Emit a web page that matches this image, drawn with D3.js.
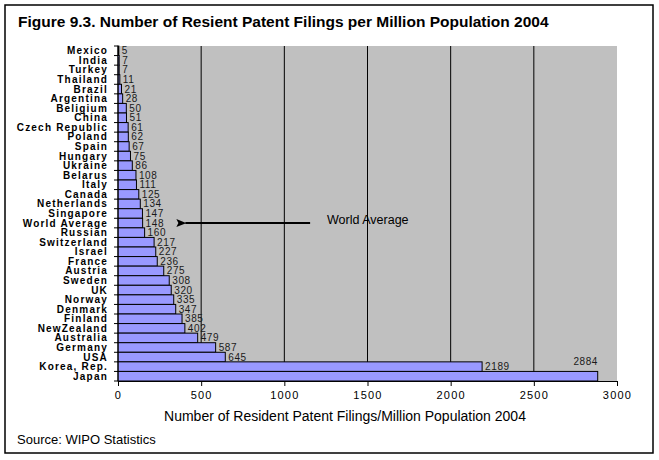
<!DOCTYPE html>
<html>
<head>
<meta charset="utf-8">
<script src="https://cdn.jsdelivr.net/npm/d3@7"></script>
<style>
  body { margin: 0; background: #fff; }
  text { font-family: "Liberation Sans", Arial, sans-serif; }
</style>
</head>
<body>
<div id="chart"></div>
<script>
// Resident patent filings per million population, 2004 (top to bottom)
const countries = ['Mexico', 'India', 'Turkey', 'Thailand', 'Brazil', 'Argentina', 'Beligium', 'China',
    'Czech Republic', 'Poland', 'Spain', 'Hungary', 'Ukraine', 'Belarus', 'Italy', 'Canada', 'Netherlands',
    'Singapore', 'World Average', 'Russian', 'Switzerland', 'Israel', 'France', 'Austria', 'Sweden', 'UK',
    'Norway', 'Denmark', 'Finland', 'NewZealand', 'Australia', 'Germany', 'USA', 'Korea, Rep.', 'Japan'];
const filings = [5, 7, 7, 11, 21, 28, 50, 51, 61, 62, 67, 75, 86, 108, 111, 125, 134,
    147, 148, 160, 217, 227, 236, 275, 308, 320, 335, 347, 385, 402, 479, 587, 645, 2189, 2884];
const xTicks = [0, 500, 1000, 1500, 2000, 2500, 3000];

const W = 659, H = 460;
const plot = { left: 118, right: 617, top: 46, bottom: 381 };

const svg = d3.select('#chart').append('svg')
    .attr('width', W)
    .attr('height', H);

// Outer frame
svg.append('rect')
    .attr('x', 5).attr('y', 5)
    .attr('width', 648).attr('height', 448)
    .attr('fill', '#fff')
    .attr('stroke', '#000')
    .attr('stroke-width', 1.5);

// Title
svg.append('text')
    .attr('x', 18).attr('y', 27)
    .attr('font-size', '15.5px')
    .attr('font-weight', 'bold')
    .text('Figure 9.3. Number of Resient Patent Filings per Million Population 2004');

const x = d3.scaleLinear().domain([0, 3000]).range([plot.left, plot.right]);
const y = d3.scaleBand().domain(countries).range([plot.top, plot.bottom]).paddingInner(0);

// Plot background
svg.append('rect')
    .attr('x', plot.left).attr('y', plot.top)
    .attr('width', plot.right - plot.left)
    .attr('height', plot.bottom - plot.top)
    .attr('fill', '#c0c0c0');

// Vertical gridlines
svg.append('g')
    .selectAll('line')
    .data(xTicks.slice(1, -1))
    .enter().append('line')
    .attr('x1', d => x(d)).attr('x2', d => x(d))
    .attr('y1', plot.top).attr('y2', plot.bottom)
    .attr('stroke', '#000')
    .attr('stroke-width', 1);

// Bars
const rows = countries.map((c, i) => ({ name: c, value: filings[i] }));
svg.append('g')
    .selectAll('rect')
    .data(rows)
    .enter().append('rect')
    .attr('x', x(0))
    .attr('y', d => y(d.name))
    .attr('width', d => x(d.value) - x(0))
    .attr('height', y.bandwidth())
    .attr('fill', '#9999ff')
    .attr('stroke', '#000')
    .attr('stroke-width', 1);

// Value labels
svg.append('g')
    .selectAll('text')
    .data(rows)
    .enter().append('text')
    .attr('x', d => d.name === 'Japan' ? x(d.value) - 12 : x(d.value) + 3)
    .attr('y', d => d.name === 'Japan' ? y(d.name) - 6 : y(d.name) + y.bandwidth() / 2 + 3.5)
    .attr('text-anchor', d => d.name === 'Japan' ? 'middle' : 'start')
    .attr('font-size', '10px')
    .attr('letter-spacing', '0.6px')
    .attr('fill', '#1a1a1a')
    .text(d => d.value);

// Y axis line, ticks and category labels
svg.append('line')
    .attr('x1', plot.left).attr('x2', plot.left)
    .attr('y1', plot.top).attr('y2', plot.bottom)
    .attr('stroke', '#000');
svg.append('g')
    .selectAll('line')
    .data(d3.range(countries.length + 1))
    .enter().append('line')
    .attr('x1', plot.left - 4).attr('x2', plot.left)
    .attr('y1', i => plot.top + i * y.step())
    .attr('y2', i => plot.top + i * y.step())
    .attr('stroke', '#000');
svg.append('g')
    .selectAll('text')
    .data(countries)
    .enter().append('text')
    .attr('x', 108)
    .attr('y', d => y(d) + y.bandwidth() / 2 + 3.5)
    .attr('text-anchor', 'end')
    .attr('font-size', '10px')
    .attr('font-weight', 'bold')
    .attr('letter-spacing', '1.2px')
    .text(d => d);

// X axis
const xAxis = svg.append('g')
    .attr('transform', `translate(0,${plot.bottom})`)
    .call(d3.axisBottom(x).tickValues(xTicks).tickFormat(d3.format('d')).tickSize(5).tickSizeOuter(0));
xAxis.select('.domain').attr('stroke', '#000');
xAxis.selectAll('.tick line').attr('stroke', '#000');
xAxis.selectAll('.tick text')
    .attr('font-family', '"Liberation Sans", Arial, sans-serif')
    .attr('font-size', '11px')
    .attr('letter-spacing', '1.2px')
    .attr('fill', '#000')
    .attr('dy', '0.9em');

svg.append('text')
    .attr('x', 345)
    .attr('y', 421)
    .attr('text-anchor', 'middle')
    .attr('font-size', '14px')
    .text('Number of Resident Patent Filings/Million Population 2004');

svg.append('text')
    .attr('x', 17).attr('y', 444)
    .attr('font-size', '13px')
    .text('Source: WIPO Statistics');

// World average annotation
const avgY = y('World Average') + y.bandwidth() / 2;
svg.append('defs').append('marker')
    .attr('id', 'arrow')
    .attr('viewBox', '0 0 10 10')
    .attr('refX', 1).attr('refY', 5)
    .attr('markerWidth', 5).attr('markerHeight', 5)
    .attr('orient', 'auto-start-reverse')
    .append('path')
    .attr('d', 'M0,5 L10,1 L8,5 L10,9 Z')
    .attr('fill', '#000');
svg.append('line')
    .attr('x1', x(1155)).attr('x2', x(405))
    .attr('y1', avgY).attr('y2', avgY)
    .attr('stroke', '#000')
    .attr('stroke-width', 2)
    .attr('marker-end', 'url(#arrow)');
svg.append('text')
    .attr('x', 327).attr('y', avgY + 1)
    .attr('font-size', '12.5px')
    .text('World Average');
</script>
</body>
</html>
